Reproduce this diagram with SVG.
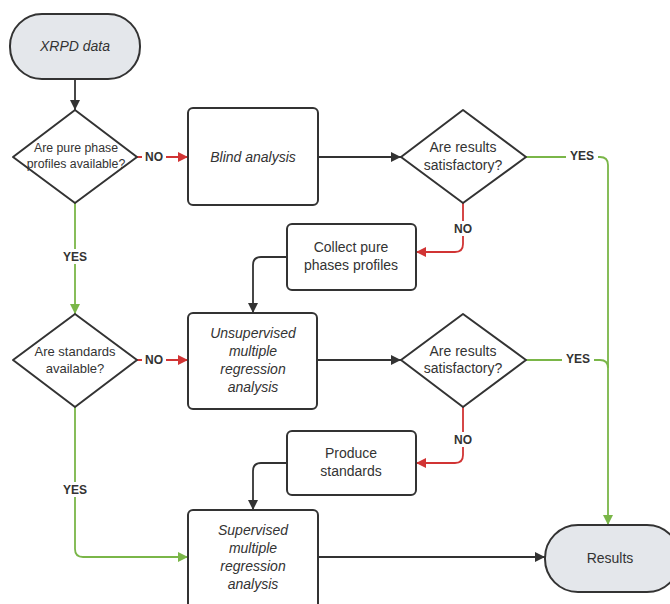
<svg xmlns="http://www.w3.org/2000/svg" width="670" height="604" viewBox="0 0 670 604">
<defs>
<style>
.box{fill:#fff;stroke:#333;stroke-width:2}
.term{fill:#e4e7eb;stroke:#333;stroke-width:2}
.t{font-family:"Liberation Sans",Arial,sans-serif;font-size:14px;fill:#333;text-anchor:middle}
.i{font-style:italic}
.lbl{font-family:"Liberation Sans",Arial,sans-serif;font-size:12px;font-weight:bold;fill:#333;text-anchor:middle}
.k{fill:none;stroke:#333;stroke-width:1.8}
.r{fill:none;stroke:#d13434;stroke-width:1.8}
.g{fill:none;stroke:#7ab648;stroke-width:1.8}
</style>
<marker id="ak" viewBox="0 0 10 10" refX="10" refY="5" markerWidth="10" markerHeight="10" markerUnits="userSpaceOnUse" orient="auto"><path d="M0,0 L10,5 L0,10 z" fill="#333"/></marker>
<marker id="ar" viewBox="0 0 10 10" refX="10" refY="5" markerWidth="10" markerHeight="10" markerUnits="userSpaceOnUse" orient="auto"><path d="M0,0 L10,5 L0,10 z" fill="#d13434"/></marker>
<marker id="ag" viewBox="0 0 10 10" refX="10" refY="5" markerWidth="10" markerHeight="10" markerUnits="userSpaceOnUse" orient="auto"><path d="M0,0 L10,5 L0,10 z" fill="#7ab648"/></marker>
</defs>
<rect width="670" height="604" fill="#fff"/>
<g id="connectors">
<path class="k" d="M75,79 V110" marker-end="url(#ak)"/>
<path class="r" d="M137,157 H188" marker-end="url(#ar)"/>
<path class="k" d="M318,157 H401" marker-end="url(#ak)"/>
<path class="g" d="M526,157 H600 Q608,157 608,165 V525" marker-end="url(#ag)"/>
<path class="r" d="M463,203 V244 Q463,252 455,252 H416" marker-end="url(#ar)"/>
<path class="k" d="M287,257 H261 Q253,257 253,265 V313" marker-end="url(#ak)"/>
<path class="g" d="M75,203 V314" marker-end="url(#ag)"/>
<path class="r" d="M137,360 H188" marker-end="url(#ar)"/>
<path class="k" d="M317,360 H401" marker-end="url(#ak)"/>
<path class="g" d="M526,360 H600 Q608,360 608,368"/>
<path class="r" d="M463,407 V455 Q463,463 455,463 H416" marker-end="url(#ar)"/>
<path class="k" d="M287,463 H261 Q253,463 253,471 V510" marker-end="url(#ak)"/>
<path class="g" d="M75,407 V549 Q75,557 83,557 H188" marker-end="url(#ag)"/>
<path class="k" d="M318,557 H545" marker-end="url(#ak)"/>
<rect x="142" y="149" width="24" height="15" fill="#fff"/>
<text class="lbl" x="154" y="161">NO</text>
<rect x="566" y="149" width="32" height="15" fill="#fff"/>
<text class="lbl" x="582" y="160">YES</text>
<rect x="452" y="221" width="22" height="15" fill="#fff"/>
<text class="lbl" x="463" y="233">NO</text>
<rect x="59" y="249" width="32" height="15" fill="#fff"/>
<text class="lbl" x="75" y="261">YES</text>
<rect x="142" y="352" width="24" height="15" fill="#fff"/>
<text class="lbl" x="154" y="364">NO</text>
<rect x="562" y="351" width="32" height="15" fill="#fff"/>
<text class="lbl" x="578" y="363">YES</text>
<rect x="452" y="432" width="22" height="15" fill="#fff"/>
<text class="lbl" x="463" y="444">NO</text>
<rect x="59" y="482" width="32" height="15" fill="#fff"/>
<text class="lbl" x="75" y="494">YES</text>
</g>
<g id="xrpd">
<rect class="term" x="10" y="14" width="130" height="65" rx="32" ry="32"/>
<text class="t i" x="75" y="51">XRPD data</text>
</g>
<g id="q-pure">
<path class="box" d="M75,110 L137,157 L75,203 L13,157 Z" stroke-linejoin="round"/>
<text class="t" x="76" y="152" style="font-size:12.3px">Are pure phase</text>
<text class="t" x="76" y="168" style="font-size:12.3px">profiles available?</text>
</g>
<g id="blind">
<rect class="box" x="188" y="108" width="130" height="97" rx="5"/>
<text class="t i" x="253" y="162">Blind analysis</text>
</g>
<g id="q-results1">
<path class="box" d="M463,110 L526,157 L463,203 L401,157 Z" stroke-linejoin="round"/>
<text class="t" x="463" y="152">Are results</text>
<text class="t" x="463" y="170">satisfactory?</text>
</g>
<g id="collect">
<rect class="box" x="287" y="224" width="129" height="66" rx="5"/>
<text class="t" x="351" y="252">Collect pure</text>
<text class="t" x="351" y="270">phases profiles</text>
</g>
<g id="q-standards">
<path class="box" d="M75,314 L137,360 L75,407 L13,360 Z" stroke-linejoin="round"/>
<text class="t" x="75" y="356" style="font-size:13px">Are standards</text>
<text class="t" x="75" y="373" style="font-size:13px">available?</text>
</g>
<g id="unsupervised">
<rect class="box" x="188" y="313" width="129" height="96" rx="5"/>
<text class="t i" x="253" y="338">Unsupervised</text>
<text class="t i" x="253" y="356">multiple</text>
<text class="t i" x="253" y="374">regression</text>
<text class="t i" x="253" y="392">analysis</text>
</g>
<g id="q-results2">
<path class="box" d="M463,314 L526,360 L463,407 L401,360 Z" stroke-linejoin="round"/>
<text class="t" x="463" y="356">Are results</text>
<text class="t" x="463" y="373">satisfactory?</text>
</g>
<g id="produce">
<rect class="box" x="287" y="431" width="129" height="64" rx="5"/>
<text class="t" x="351" y="458">Produce</text>
<text class="t" x="351" y="476">standards</text>
</g>
<g id="supervised">
<rect class="box" x="188" y="510" width="130" height="100" rx="5"/>
<text class="t i" x="253" y="535">Supervised</text>
<text class="t i" x="253" y="553">multiple</text>
<text class="t i" x="253" y="571">regression</text>
<text class="t i" x="253" y="589">analysis</text>
</g>
<g id="results">
<rect class="term" x="545" y="525" width="135" height="67" rx="33" ry="33"/>
<text class="t" x="610" y="563">Results</text>
</g>
</svg>
